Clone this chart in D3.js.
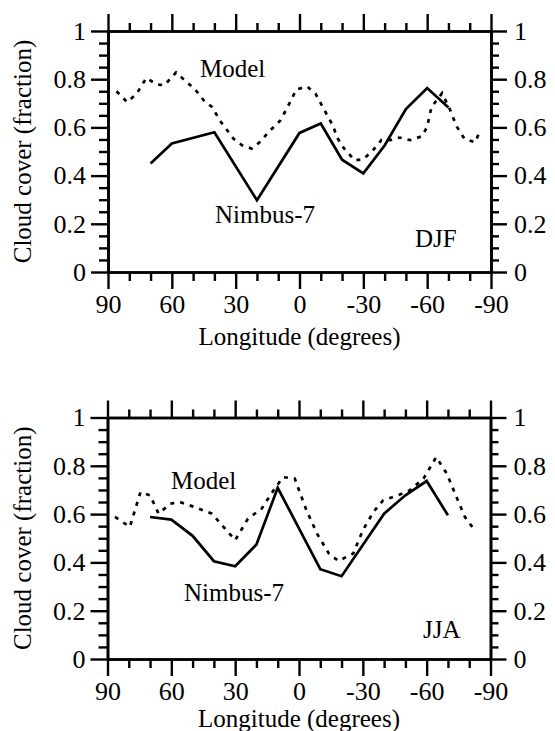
<!DOCTYPE html>
<html>
<head>
<meta charset="utf-8">
<script src="https://cdn.jsdelivr.net/npm/d3@7"></script>
<style>
  html, body { margin: 0; padding: 0; background: #fff; }
  svg, svg text { font-family: "Liberation Serif", "Times New Roman", serif; }
  svg { display: block; }
</style>
</head>
<body>
<svg id="chart" width="555" height="731"></svg>
<script>
// ---- Axis ticks ----
const lonMajorTicks = [90, 60, 30, 0, -30, -60, -90];
const lonMinorTicks = [80, 70, 50, 40, 20, 10, -10, -20, -40, -50, -70, -80];
const fracMajorTicks = [0, 0.2, 0.4, 0.6, 0.8, 1];
const fracMinorTicks = [0.05, 0.1, 0.15, 0.25, 0.3, 0.35, 0.45, 0.5, 0.55,
                        0.65, 0.7, 0.75, 0.85, 0.9, 0.95];
const fracTickLabels = ["0", "0.2", "0.4", "0.6", "0.8", "1"];
const lonTickLabels = ["90", "60", "30", "0", "-30", "-60", "-90"];

// ---- DJF: cloud cover vs longitude ----
const djfNimbusLon   = [70, 60, 40, 20, 0, -10, -20, -30, -40, -50, -60, -70];
const djfNimbusCloud = [0.45, 0.533, 0.58, 0.298, 0.577, 0.616, 0.466, 0.409, 0.525, 0.676, 0.763, 0.683];
const djfModelLon   = [86, 81, 76.5, 72, 67, 63.5, 58, 54.5, 49, 45, 41, 37.5, 34, 31, 27, 22.5,
                       18.5, 14.5, 9, 6.5, 4, 1.5, -3.5, -7.5, -10.5, -13.5, -16, -17.5, -21, -26,
                       -30, -34.5, -38.5, -42.5, -47, -52, -57.5, -60, -62, -67, -70.5, -74, -77.5,
                       -82.5, -85];
const djfModelCloud = [0.75, 0.705, 0.74, 0.805, 0.778, 0.775, 0.828, 0.8, 0.757, 0.712, 0.684, 0.629,
                       0.588, 0.553, 0.526, 0.512, 0.54, 0.581, 0.629, 0.67, 0.712, 0.757, 0.77, 0.74,
                       0.691, 0.643, 0.602, 0.56, 0.512, 0.463, 0.468, 0.505, 0.547, 0.547, 0.558,
                       0.547, 0.563, 0.602, 0.684, 0.742, 0.678, 0.602, 0.553, 0.538, 0.588];

// ---- JJA: cloud cover vs longitude ----
const jjaNimbusLon   = [70, 60, 50, 40, 30, 20, 10, -10, -20, -40, -50, -60, -70];
const jjaNimbusCloud = [0.588, 0.577, 0.51, 0.405, 0.384, 0.474, 0.709, 0.372, 0.343, 0.602, 0.678, 0.737, 0.595];
const jjaModelLon   = [86.5, 79.5, 74.5, 70, 66, 60.5, 56, 50, 41, 35.5, 30, 24, 17.5, 12, 7.5, 2,
                       -3.5, -8.5, -14, -18.5, -25.5, -30, -35, -39.5, -46.5, -52, -58.5, -64.5,
                       -69.5, -74, -78, -82];
const jjaModelCloud = [0.588, 0.547, 0.691, 0.678, 0.602, 0.643, 0.65, 0.632, 0.602, 0.547, 0.492,
                       0.581, 0.623, 0.698, 0.753, 0.747, 0.616, 0.519, 0.437, 0.406, 0.437, 0.533,
                       0.609, 0.657, 0.678, 0.698, 0.747, 0.836, 0.767, 0.671, 0.588, 0.54];

const svg = d3.select("#chart");
const ink = "#000";
const serif = "\"Liberation Serif\", \"Times New Roman\", serif";

const panels = [
  { season: "DJF", left: 108, right: 491, top: 31, bottom: 272, titleDrop: 73,
    nimbusLon: djfNimbusLon, nimbusCloud: djfNimbusCloud,
    modelLon: djfModelLon, modelCloud: djfModelCloud,
    modelLabel: [200, 77], nimbusLabel: [215, 223], seasonLabel: [415, 247] },
  { season: "JJA", left: 107.5, right: 490.5, top: 417.5, bottom: 659, titleDrop: 68,
    nimbusLon: jjaNimbusLon, nimbusCloud: jjaNimbusCloud,
    modelLon: jjaModelLon, modelCloud: jjaModelCloud,
    modelLabel: [171, 489], nimbusLabel: [184, 601], seasonLabel: [423, 638] }
];

function styleAxis(g) {
  g.attr("font-family", null);
  g.selectAll(".domain").attr("stroke", ink).attr("stroke-width", 2.6);
  g.selectAll(".tick line").attr("stroke", ink).attr("stroke-width", 2.4);
  g.selectAll(".tick text").attr("fill", ink).attr("font-size", 26).style("font-family", serif);
}

panels.forEach(p => {
  const x = d3.scaleLinear().domain([90, -90]).range([p.left, p.right]);
  const y = d3.scaleLinear().domain([0, 1]).range([p.bottom, p.top]);
  const g = svg.append("g");

  // minor ticks (no labels)
  g.append("g").attr("transform", `translate(0,${p.bottom})`)
    .call(d3.axisBottom(x).tickValues(lonMinorTicks).tickSize(9).tickSizeOuter(0).tickFormat(""))
    .call(styleAxis);
  g.append("g").attr("transform", `translate(0,${p.top})`)
    .call(d3.axisTop(x).tickValues(lonMinorTicks).tickSize(8).tickSizeOuter(0).tickFormat(""))
    .call(styleAxis);
  g.append("g").attr("transform", `translate(${p.left},0)`)
    .call(d3.axisLeft(y).tickValues(fracMinorTicks).tickSize(9).tickSizeOuter(0).tickFormat(""))
    .call(styleAxis);
  g.append("g").attr("transform", `translate(${p.right},0)`)
    .call(d3.axisRight(y).tickValues(fracMinorTicks).tickSize(8).tickSizeOuter(0).tickFormat(""))
    .call(styleAxis);

  // major ticks with labels
  g.append("g").attr("transform", `translate(0,${p.bottom})`)
    .call(d3.axisBottom(x).tickValues(lonMajorTicks).tickSize(17).tickSizeOuter(0).tickPadding(6)
      .tickFormat((d, i) => lonTickLabels[i]))
    .call(styleAxis);
  g.append("g").attr("transform", `translate(0,${p.top})`)
    .call(d3.axisTop(x).tickValues(lonMajorTicks).tickSize(17).tickSizeOuter(0).tickFormat(""))
    .call(styleAxis);
  g.append("g").attr("transform", `translate(${p.left},0)`)
    .call(d3.axisLeft(y).tickValues(fracMajorTicks).tickSize(17).tickSizeOuter(0).tickPadding(5)
      .tickFormat((d, i) => fracTickLabels[i]))
    .call(styleAxis);
  g.append("g").attr("transform", `translate(${p.right},0)`)
    .call(d3.axisRight(y).tickValues(fracMajorTicks).tickSize(16).tickSizeOuter(0).tickPadding(7)
      .tickFormat((d, i) => fracTickLabels[i]))
    .call(styleAxis);

  // series lines
  const line = d3.line().x(d => x(d[0])).y(d => y(d[1]));
  const model = p.modelLon.map((v, i) => [v, p.modelCloud[i]]);
  const nimbus = p.nimbusLon.map((v, i) => [v, p.nimbusCloud[i]]);

  g.append("path").datum(model)
    .attr("d", line).attr("fill", "none").attr("stroke", ink)
    .attr("stroke-width", 2.7).attr("stroke-dasharray", "4,6");
  g.append("path").datum(nimbus)
    .attr("d", line).attr("fill", "none").attr("stroke", ink)
    .attr("stroke-width", 2.7).attr("stroke-linejoin", "miter");

  // in-plot labels
  const label = (pos, txt) => g.append("text")
    .attr("x", pos[0]).attr("y", pos[1]).attr("font-size", 25).attr("fill", ink)
    .style("font-family", serif).text(txt);
  label(p.modelLabel, "Model");
  label(p.nimbusLabel, "Nimbus-7");
  label(p.seasonLabel, p.season);

  // axis titles
  g.append("text")
    .attr("x", (p.left + p.right) / 2).attr("y", p.bottom + p.titleDrop)
    .attr("text-anchor", "middle").attr("font-size", 25).attr("fill", ink)
    .style("font-family", serif).text("Longitude (degrees)");
  g.append("text")
    .attr("transform", `translate(31,${(p.top + p.bottom) / 2}) rotate(-90)`)
    .attr("text-anchor", "middle").attr("font-size", 25).attr("fill", ink)
    .style("font-family", serif).text("Cloud cover (fraction)");
});
</script>
</body>
</html>
